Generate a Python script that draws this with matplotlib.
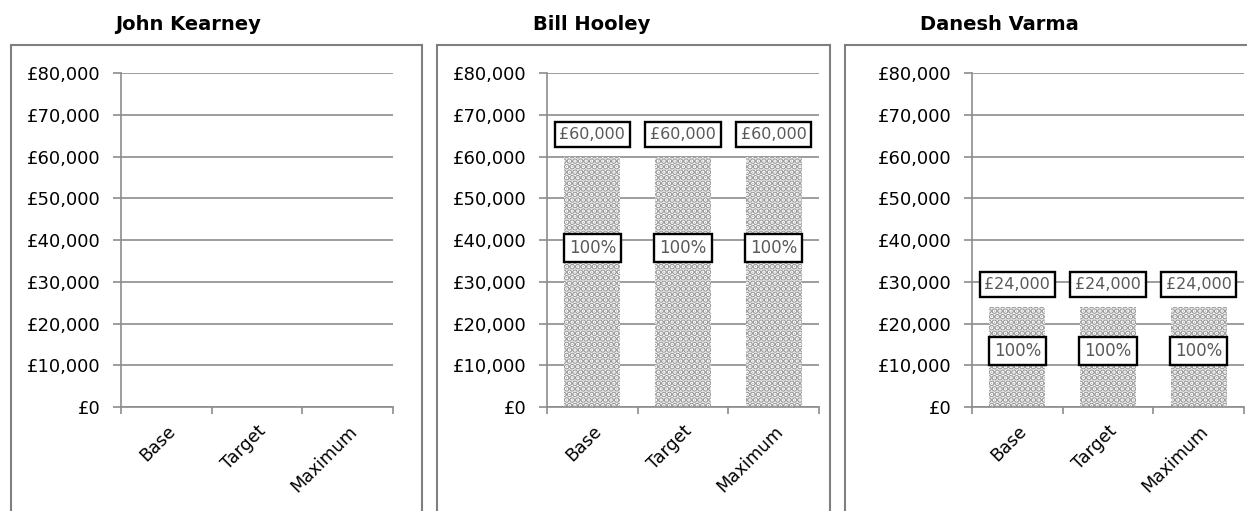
#!/usr/bin/env python3
# Bonus per person - three small bar panels

import matplotlib.pyplot as plt
from matplotlib.patches import Rectangle
import numpy as np

# data
people = ["John Kearney", "Bill Hooley", "Danesh Varma"]
levels = ["Base", "Target", "Maximum"]
bonus = [[0, 0, 0], [60000, 60000, 60000], [24000, 24000, 24000]]
pct_labels = [[None, None, None], ["100%", "100%", "100%"], ["100%", "100%", "100%"]]
yticks = np.arange(0, 80001, 10000)

GRID = '#8c8c8c'
plt.rcParams['hatch.color'] = '#9a9a9a'
plt.rcParams['hatch.linewidth'] = 3.2

W, H = 1247, 511
fig = plt.figure(figsize=(W/100, H/100), dpi=100)

ax_left = [121, 547, 972]
title_x = [188, 592, 999]
box_x = [(11, 422), (437, 830), (845, 1260)]
pct_frac = [0.6, 0.635, 0.56]

for i, name in enumerate(people):
	# panel border
	x0, x1 = box_x[i]
	fig.patches.append(Rectangle((x0/W, -0.1), (x1-x0)/W, 1.1-45/H, transform=fig.transFigure,
		fill=False, edgecolor='#7f7f7f', linewidth=1.5))
	fig.text(title_x[i]/W, 1-25/H, name, ha='center', va='center', fontsize=14, fontweight='bold')

	ax = fig.add_axes([ax_left[i]/W, 1-407/H, 272/W, (407-73)/H])
	xpos = np.arange(len(levels))
	vals = bonus[i]
	ax.bar(xpos, vals, width=0.62, color='white', hatch='...', linewidth=0, zorder=2)
	ax.set_xlim(-0.5, 2.5)
	ax.set_ylim(0, 80000)
	ax.set_yticks(yticks)
	ax.set_yticklabels(["£{:,}".format(v) for v in yticks], fontsize=13)
	ax.grid(axis='y', color=GRID, linewidth=1.2, zorder=0)
	ax.set_axisbelow(True)
	for s in ['top', 'right']:
		ax.spines[s].set_visible(False)
	for s in ['left', 'bottom']:
		ax.spines[s].set_color(GRID)
		ax.spines[s].set_linewidth(1.2)
	ax.tick_params(axis='y', length=6, color=GRID, width=1.2, pad=9)
	# category ticks at boundaries
	ax.set_xticks(np.arange(-0.5, 3, 1))
	ax.set_xticklabels([])
	ax.set_xticks(xpos, minor=True)
	ax.set_xticklabels(levels, minor=True, rotation=45, ha='right', rotation_mode='anchor', fontsize=12.5)
	ax.tick_params(axis='x', which='major', length=5, color=GRID, width=1.2)
	ax.tick_params(axis='x', which='minor', length=0, pad=11)

	for j, v in enumerate(vals):
		if v == 0:
			continue
		ax.annotate("£{:,}".format(v), (xpos[j], v), xytext=(0, 16), textcoords='offset points',
			ha='center', va='center', fontsize=11.5, color='#595959', zorder=5,
			bbox=dict(boxstyle='square,pad=0.3', fc='white', ec='black', lw=1.7))
		ax.text(xpos[j], v*pct_frac[i], pct_labels[i][j], ha='center', va='center',
			fontsize=12, color='#595959', zorder=5,
			bbox=dict(boxstyle='square,pad=0.3', fc='white', ec='black', lw=1.7))

fig.savefig("out.png", dpi=100)
